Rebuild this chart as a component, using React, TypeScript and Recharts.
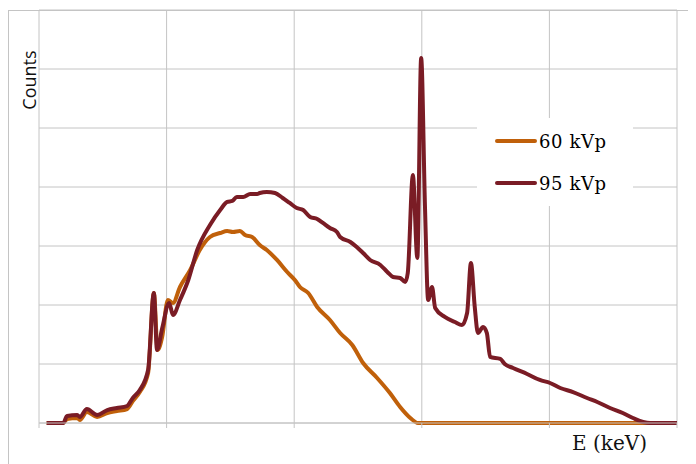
import React from "react";
import { LineChart, Line, XAxis, YAxis, CartesianGrid, Legend, Label } from "recharts";

// Photon energy (keV) and relative counts for the 95 kVp spectrum
const energy95 = [1.2, 3.8, 4.4, 6.0, 6.4, 7.5, 9.1, 10.7, 12.2, 13.8, 14.7, 15.8, 17.1, 18.0, 18.5, 19.3, 20.4, 21.0, 22.1, 23.4, 24.8, 26.8, 28.4, 29.5, 30.3, 31.0, 32.0, 33.1, 34.2, 34.6, 35.7, 37.0, 38.2, 39.3, 40.4, 41.4, 42.5, 43.6, 44.5, 45.6, 46.7, 47.2, 48.8, 49.8, 50.8, 51.9, 53.5, 54.6, 55.5, 56.6, 57.4, 57.8, 58.6, 59.3, 59.9, 60.5, 61.0, 61.6, 62.1, 63.6, 65.2, 66.3, 67.1, 67.7, 68.3, 68.8, 69.6, 70.2, 70.7, 72.3, 73.0, 74.3, 76.5, 78.5, 80.1, 81.7, 83.7, 85.9, 87.5, 89.5, 91.5, 93.1, 94.7, 95.8, 100];
const counts95 = [0, 0, 119, 136, 102, 237, 136, 220, 254, 288, 424, 559, 898, 2203, 1237, 1600, 2034, 1831, 2085, 2424, 2932, 3356, 3610, 3746, 3763, 3831, 3831, 3881, 3881, 3898, 3915, 3898, 3814, 3729, 3644, 3610, 3492, 3458, 3390, 3305, 3237, 3153, 3068, 2983, 2881, 2763, 2678, 2559, 2475, 2458, 2390, 2542, 4203, 2797, 6186, 3661, 2085, 2305, 1949, 1797, 1712, 1661, 1864, 2712, 1966, 1525, 1627, 1525, 1119, 1085, 1000, 932, 831, 729, 678, 593, 525, 424, 356, 254, 169, 85, 17, 0, 0];

// Photon energy (keV) and relative counts for the 60 kVp spectrum
const energy60 = [1.2, 3.8, 4.4, 6.0, 6.4, 7.5, 9.1, 10.7, 12.2, 13.8, 14.7, 15.8, 17.1, 18.0, 18.6, 19.3, 20.2, 21.0, 22.1, 23.7, 25.2, 26.8, 28.4, 29.5, 30.4, 31.5, 32.3, 33.4, 34.6, 35.7, 37.3, 38.9, 40.1, 40.9, 42.2, 43.6, 45.6, 47.2, 49.1, 50.8, 53.0, 55.0, 56.6, 58.2, 59.4, 100];
const counts60 = [0, 0, 68, 85, 51, 186, 102, 169, 203, 237, 373, 525, 847, 2203, 1237, 1458, 2085, 2034, 2305, 2593, 2932, 3153, 3220, 3254, 3237, 3254, 3186, 3153, 3017, 2932, 2763, 2559, 2424, 2305, 2203, 1966, 1746, 1525, 1322, 1017, 763, 508, 271, 85, 0, 0];

const xTicks = [0, 20, 40, 60, 80, 100];
const yTicks = [0, 1000, 2000, 3000, 4000, 5000, 6000, 7000];

const seriesNames = ["60 kVp", "95 kVp"];
const seriesColors = ["#C0600A", "#7A1C25"];

const data60 = energy60.map((e, i) => ({ e, c: counts60[i] }));
const data95 = energy95.map((e, i) => ({ e, c: counts95[i] }));

const GRID = "#C4C4C4";

const NoTick = () => <g />;

const LegendBox = () => (
  <svg width={156} height={88} style={{ display: "block", background: "#fff" }}>
    {seriesNames.map((name, i) => (
      <g key={name}>
        <line x1={20} x2={58} y1={23 + i * 42} y2={23 + i * 42} stroke={seriesColors[i]} strokeWidth={4} strokeLinecap="round" />
        <text x={62} y={30 + i * 42} fontFamily="'DejaVu Serif', serif" fontSize={18} letterSpacing={0.6} fill="#000">
          {name}
        </text>
      </g>
    ))}
  </svg>
);

export default function App() {
  return (
    <div style={{ position: "relative", width: 688, height: 456 }}>
      <div
        style={{
          position: "absolute",
          left: 0,
          top: 2,
          width: 688,
          height: 454,
          borderTop: `1px solid ${GRID}`,
          borderLeft: `1px solid ${GRID}`,
          boxSizing: "border-box",
        }}
      />
      <LineChart width={688} height={456} margin={{ top: 2, right: 19, bottom: 0, left: 0 }}>
        <CartesianGrid stroke={GRID} strokeWidth={1} horizontal vertical />
        <XAxis
          dataKey="e"
          type="number"
          domain={[0, 100]}
          ticks={xTicks}
          height={41}
          axisLine={{ stroke: GRID }}
          tickLine={{ stroke: GRID }}
          tickSize={5}
          tick={<NoTick />}
        >
          <Label
            content={() => (
              <text x={639} y={442} textAnchor="end" fontFamily="'DejaVu Serif', serif" fontSize={20} fill="#111">
                E (keV)
              </text>
            )}
          />
        </XAxis>
        <YAxis
          type="number"
          domain={[0, 7000]}
          ticks={yTicks}
          width={31}
          axisLine={false}
          tickLine={false}
          tick={<NoTick />}
        >
          <Label
            content={() => (
              <text
                x={21}
                y={72}
                transform="rotate(-90 21 72)"
                textAnchor="middle"
                dominantBaseline="central"
                fontFamily="'Open Sans', sans-serif"
                fontSize={18}
                fill="#111"
              >
                Counts
              </text>
            )}
          />
        </YAxis>
        <Legend
          layout="vertical"
          align="center"
          verticalAlign="middle"
          wrapperStyle={{ left: 469, top: 110, width: 156, height: 88 }}
          content={() => <LegendBox />}
        />
        <Line
          data={data60}
          dataKey="c"
          name={seriesNames[0]}
          stroke={seriesColors[0]}
          strokeWidth={4}
          dot={false}
          type="monotone"
          strokeLinejoin="round"
          isAnimationActive={false}
        />
        <Line
          data={data95}
          dataKey="c"
          name={seriesNames[1]}
          stroke={seriesColors[1]}
          strokeWidth={4}
          dot={false}
          type="monotone"
          strokeLinejoin="round"
          isAnimationActive={false}
        />
      </LineChart>
    </div>
  );
}
